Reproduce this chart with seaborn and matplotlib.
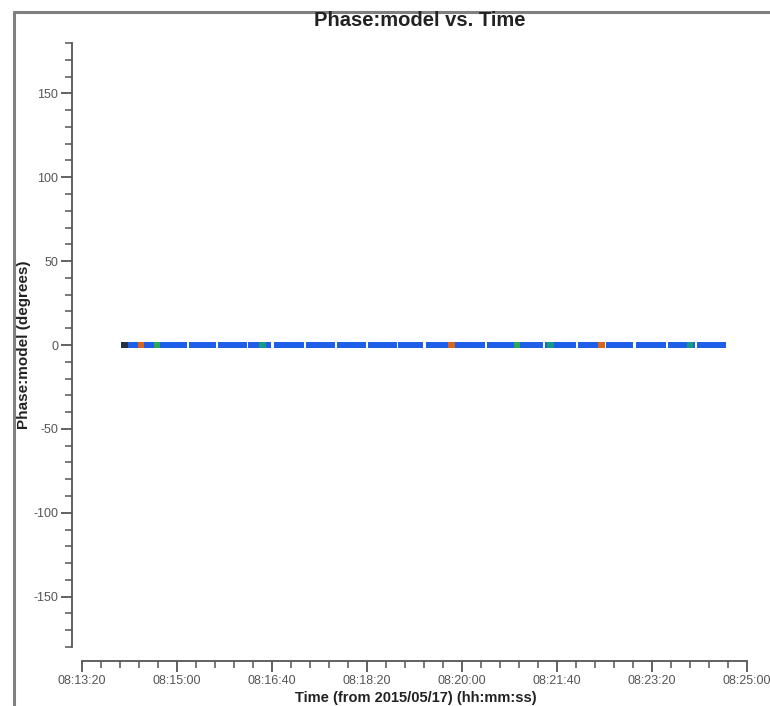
import numpy as np
import pandas as pd
import matplotlib
matplotlib.use("Agg")
import matplotlib.pyplot as plt
from matplotlib.ticker import MultipleLocator, FuncFormatter
from matplotlib.lines import Line2D
import seaborn as sns

# Scan boundaries (seconds after 08:13:20)
scan_start = [45, 81, 114, 144, 176, 203, 237, 270, 302, 334, 363, 393, 428, 460, 489, 523, 553, 584, 618, 649]
scan_end   = [77, 110, 140, 172, 199, 233, 266, 298, 330, 359, 389, 424, 456, 485, 519, 549, 580, 614, 645, 677]
integration = 2.0
# Specially coloured samples (time in seconds, colour group)
special_t = [45, 62, 79, 190, 389, 458, 493, 547, 640]
special_g = ["dark", "orange", "green", "teal", "orange", "green", "teal", "orange", "teal"]
phase_value = 0.0

times = []
for s, e in zip(scan_start, scan_end):
    times.extend(np.arange(s, e + 0.01, integration))
times = np.array(times)
df = pd.DataFrame({"time": times, "phase": phase_value, "group": "blue"})
sp = pd.DataFrame({"time": special_t, "phase": phase_value, "group": special_g})

palette = {"blue": "#1f5fe8", "orange": "#d8661c", "green": "#2aa85a",
           "teal": "#169a88", "dark": "#22304a"}

# narrow vertical bar marker so scan gaps stay visible
bar_marker = [(-0.35, -1), (0.35, -1), (0.35, 1), (-0.35, 1), (-0.35, -1)]

sns.set_style("white")
plt.rcParams["font.family"] = ["Liberation Sans", "DejaVu Sans"]

fig = plt.figure(figsize=(7.70, 7.06), dpi=100)
ax = fig.add_axes([82/770, 1-647/706, (747-82)/770, (647-43)/706])

sns.scatterplot(data=df, x="time", y="phase", hue="group", palette=palette,
                s=22, marker=bar_marker, linewidth=0, legend=False, ax=ax)
sns.scatterplot(data=sp, x="time", y="phase", hue="group", palette=palette,
                s=22, marker="s", linewidth=0, legend=False, ax=ax)

ax.set_xlim(0, 700)
ax.set_ylim(-180, 180)
ax.xaxis.set_major_locator(MultipleLocator(100))
ax.xaxis.set_minor_locator(MultipleLocator(20))
ax.yaxis.set_major_locator(MultipleLocator(50))
ax.yaxis.set_minor_locator(MultipleLocator(10))

def fmt_time(v, pos):
    t = int(round(v)) + 8*3600 + 13*60 + 20
    return "%02d:%02d:%02d" % (t // 3600, (t % 3600) // 60, t % 60)

def fmt_phase(v, pos):
    return "%d" % int(round(v))

ax.xaxis.set_major_formatter(FuncFormatter(fmt_time))
ax.yaxis.set_major_formatter(FuncFormatter(fmt_phase))

for side in ["top", "right"]:
    ax.spines[side].set_visible(False)
ax.spines["left"].set_position(("outward", 7))
ax.spines["bottom"].set_position(("outward", 10))
for side in ["left", "bottom"]:
    ax.spines[side].set_color("#555555")
    ax.spines[side].set_linewidth(1.3)
ax.tick_params(axis="x", which="both", bottom=True, top=False)
ax.tick_params(axis="y", which="both", left=True, right=False)
ax.tick_params(axis="both", which="major", direction="out", length=8, width=1.3,
               color="#555555", labelsize=9, labelcolor="#555555")
ax.tick_params(axis="x", which="major", pad=2)
ax.tick_params(axis="y", which="major", pad=2)
ax.tick_params(axis="both", which="minor", direction="out", length=5, width=1.1,
               color="#555555")

ax.set_xlabel("Time (from 2015/05/17) (hh:mm:ss)", fontsize=10.5, fontweight="bold",
              color="#222222")
ax.xaxis.set_label_coords(0.502, -0.0725)
ax.set_ylabel("Phase:model (degrees)", fontsize=11, fontweight="bold",
              color="#222222")
ax.yaxis.set_label_coords(-0.076, 0.5)
fig.text(420/770, 1-20/706, "Phase:model vs. Time", fontsize=14.5, fontweight="bold",
         color="#222222", ha="center", va="center")

# figure frame (left and top edges)
fig.add_artist(Line2D([14/770, 14/770], [0, 1-12/706], transform=fig.transFigure,
                      color="#808080", linewidth=2.2))
fig.add_artist(Line2D([14/770, 1], [1-12/706, 1-12/706], transform=fig.transFigure,
                      color="#808080", linewidth=2.2))

fig.savefig("out.png", dpi=100)
